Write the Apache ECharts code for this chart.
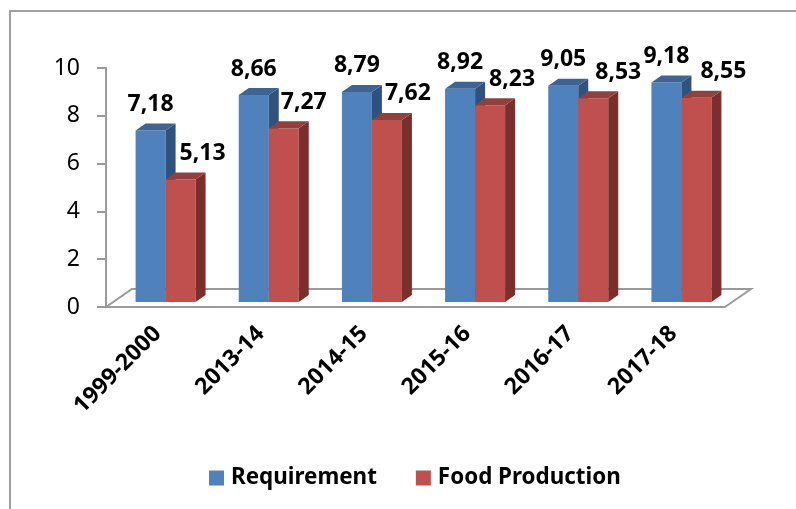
<!DOCTYPE html>
<html>
<head>
<meta charset="utf-8">
<style>
  html, body { margin: 0; padding: 0; background: #fff; }
  #chart { width: 796px; height: 509px; }
</style>
<script src="https://cdn.jsdelivr.net/npm/echarts@6/dist/echarts.min.js"></script>
</head>
<body>
<div id="chart"></div>
<script>
const categories = ['1999-2000', '2013-14', '2014-15', '2015-16', '2016-17', '2017-18'];
const requirement = [7.18, 8.66, 8.79, 8.92, 9.05, 9.18];
const foodProduction = [5.13, 7.27, 7.62, 8.23, 8.53, 8.55];
const yTicks = { min: 0, max: 10, interval: 2 };

const FONT = '"Noto Sans", "Open Sans", sans-serif';
// pseudo 3d offsets, px
const BAR_W = 30, DEPTH_X = 10, DEPTH_Y = 7;
const SHIFT_X = 8, SHIFT_Y = -5;
const FLOOR_X = 26, FLOOR_Y = 18;
// red labels sit right of their bar, by hand
const redLabelDx = [22, 20, 21, 22, 25, 27];
const blueLabelDx = [0, 0, 0, 0, 0, 0];

function fmt(v) {
  return v.toFixed(2).replace('.', ',');
}

// one 3d bar: front, side and top, label above
function bar3d(colors, side, labelDx) {
  return function (params, api) {
    const v = api.value(1);
    const top = api.coord([api.value(0), v]);
    const base = api.coord([api.value(0), 0]);
    const x0 = top[0] + SHIFT_X + (side === 0 ? -BAR_W : 0);
    const x1 = x0 + BAR_W;
    const y0 = top[1] + SHIFT_Y;
    const y1 = base[1] + SHIFT_Y;
    return {
      type: 'group',
      children: [
        { type: 'rect', shape: { x: x0, y: y0, width: BAR_W, height: y1 - y0 }, style: { fill: colors[0] } },
        { type: 'polygon', shape: { points: [[x1, y0], [x1 + DEPTH_X, y0 - DEPTH_Y], [x1 + DEPTH_X, y1 - DEPTH_Y], [x1, y1]] }, style: { fill: colors[1] } },
        { type: 'polygon', shape: { points: [[x0, y0], [x0 + DEPTH_X, y0 - DEPTH_Y], [x1 + DEPTH_X, y0 - DEPTH_Y], [x1, y0]] }, style: { fill: colors[2] } },
        {
          type: 'text',
          z2: 10,
          style: {
            x: x0 + BAR_W / 2 + labelDx[params.dataIndex], y: y0 - 26,
            text: fmt(v),
            align: 'center', verticalAlign: 'middle',
            font: 'bold 23px ' + FONT, fill: '#000'
          }
        }
      ]
    };
  };
}

// floor behind the bars, hangs off the axis ends
function floor(params, api) {
  if (params.dataIndex !== 0) return;
  const p0 = api.coord([0, 0]);
  const w = api.size([1, 0])[0];
  const left = p0[0] - w / 2, right = left + w * categories.length, y = p0[1];
  return {
    type: 'polyline',
    shape: { points: [[left, y], [left + FLOOR_X, y - FLOOR_Y], [right + FLOOR_X, y - FLOOR_Y], [right, y]] },
    style: { fill: 'none', stroke: '#9a9a9a', lineWidth: 2 }
  };
}

const chart = echarts.init(document.getElementById('chart'), null, { renderer: 'canvas' });
chart.setOption({
  animation: false,
  backgroundColor: '#fff',
  grid: { left: 106, right: 71, top: 68, bottom: 202 },
  graphic: [{
    type: 'polyline',
    shape: { points: [[10, 509], [10, 11], [796, 11]] },
    style: { fill: 'none', stroke: '#a0a0a0', lineWidth: 2 }
  }],
  legend: {
    left: 204, top: 462,
    itemWidth: 15, itemHeight: 15, itemGap: 39,
    icon: 'rect',
    data: ['Requirement', 'Food Production'],
    textStyle: { fontFamily: FONT, fontWeight: 'bold', fontSize: 22.4, color: '#000', padding: [0, 0, 0, 2] }
  },
  xAxis: {
    type: 'category',
    data: categories,
    axisLine: { lineStyle: { color: '#9a9a9a', width: 2 } },
    axisTick: { alignWithLabel: false, length: 8, lineStyle: { color: '#9a9a9a', width: 2 } },
    axisLabel: { rotate: 45, interval: 0, margin: 23, fontFamily: FONT, fontWeight: 'bold', fontSize: 23, color: '#000' }
  },
  yAxis: {
    type: 'value',
    min: yTicks.min, max: yTicks.max, interval: yTicks.interval,
    splitLine: { show: false },
    axisLine: { show: true, lineStyle: { color: '#9a9a9a', width: 2 } },
    axisTick: { show: true, length: 9, lineStyle: { color: '#9a9a9a', width: 2 } },
    axisLabel: { margin: 26, fontFamily: FONT, fontSize: 23, color: '#000' }
  },
  series: [
    { type: 'custom', name: 'floor', data: [[0, 0]], renderItem: floor, silent: true, encode: { x: 0, y: 1 } },
    {
      type: 'custom', name: 'Requirement',
      itemStyle: { color: '#4F81BD' },
      data: requirement.map((v, i) => [i, v]),
      renderItem: bar3d(['#4F81BD', '#2F527F', '#3C6595'], 0, blueLabelDx),
      encode: { x: 0, y: 1 }
    },
    {
      type: 'custom', name: 'Food Production',
      itemStyle: { color: '#C0504D' },
      data: foodProduction.map((v, i) => [i, v]),
      renderItem: bar3d(['#C0504D', '#7B2F2D', '#93403D'], 1, redLabelDx),
      encode: { x: 0, y: 1 }
    }
  ]
});
</script>
</body>
</html>
